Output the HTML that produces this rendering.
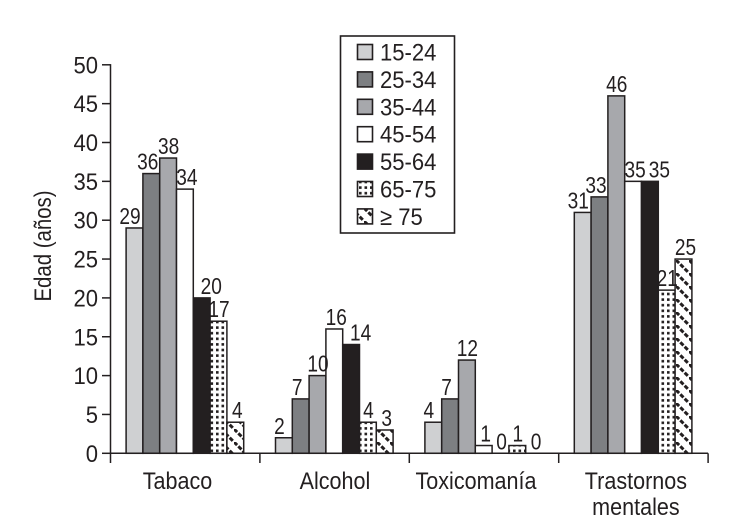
<!DOCTYPE html>
<html lang="es">
<head>
<meta charset="utf-8">
<title>Edad por trastorno</title>
<style>
html,body{margin:0;padding:0;background:#fff;width:730px;height:529px;overflow:hidden}
svg{display:block}
text{font-family:"Liberation Sans",Arial,sans-serif;fill:#231f20}
</style>
</head>
<body>
<svg id="chart" xmlns="http://www.w3.org/2000/svg" width="730" height="529" viewBox="0 0 730 529">
<defs>
<pattern id="p-dots" patternUnits="userSpaceOnUse" width="5.5" height="5.6">
<rect width="5.5" height="5.6" fill="#fff"/>
<rect x="1.5" y="1.5" width="2.6" height="2.6" fill="#231f20"/>
</pattern>
<pattern id="p-diag" patternUnits="userSpaceOnUse" width="13" height="13">
<rect width="13" height="13" fill="#fff"/>
<path d="M0 0 L13 13 M-13 0 L0 13 M0 -13 L13 0" stroke="#231f20" stroke-width="3" stroke-dasharray="4.4 1.73" fill="none"/>
</pattern>
</defs>
<g id="plot"></g>
<g id="legend"></g>
</svg>
<script>
const categories = [["Tabaco"], ["Alcohol"], ["Toxicomanía"], ["Trastornos", "mentales"]];
const ageGroups = ["15-24", "25-34", "35-44", "45-54", "55-64", "65-75", "≥ 75"];
const age1524 = [29, 2, 4, 31];
const age2534 = [36, 7, 7, 33];
const age3544 = [38, 10, 12, 46];
const age4554 = [34, 16, 1, 35];
const age5564 = [20, 14, 0, 35];
const age6575 = [17, 4, 1, 21];
const age75up = [4, 3, 0, 25];
const yTicks = [0, 5, 10, 15, 20, 25, 30, 35, 40, 45, 50];
const yTitle = "Edad (años)";

const seriesValues = [age1524, age2534, age3544, age4554, age5564, age6575, age75up];
const fills = ["#cfd0d2", "#7d7f82", "#a7a8ac", "#ffffff", "#231f20", "url(#p-dots)", "url(#p-diag)"];
const NS = "http://www.w3.org/2000/svg";
const INK = "#231f20";
const plot = document.getElementById("plot");
const legend = document.getElementById("legend");

function yScale(v) { return 453.3 - v * 7.77; }
function groupLeft(i) { return 110.5 + i * 149.4; }
function barX(g, s) { return groupLeft(g) + 15.6 + s * 16.8; }
function valueNudge(s, v) {
  if (s === 0) return -4.5;
  if (s === 1) return -3.5;
  if (s === 3) return 2;
  if (s === 4) return v > 1 ? 9.5 : 1;
  if (s === 6) return 2;
  return 0.5;
}
function categoryCenter(g) {
  const nudge = g === 0 ? -7.7 : g === 1 ? 0.3 : g === 2 ? -8 : 2.5;
  return groupLeft(g) + 74.7 + nudge;
}

function make(tag, attrs, parent) {
  const el = document.createElementNS(NS, tag);
  for (const k in attrs) el.setAttribute(k, attrs[k]);
  parent.appendChild(el);
  return el;
}
function label(str, x, y, size, sx, anchor, parent) {
  const el = make("text", {
    transform: "translate(" + x + " " + y + ") scale(" + sx + " 1)",
    "font-size": size, "text-anchor": anchor
  }, parent);
  el.textContent = str;
  return el;
}

seriesValues.forEach(function (vals, s) {
  vals.forEach(function (v, g) {
    const bar = make("rect", {
      x: barX(g, s), y: yScale(v), width: 16.8, height: yScale(0) - yScale(v),
      fill: fills[s], stroke: INK, "stroke-width": 1.5
    }, plot);
    
    
  });
});
seriesValues.forEach(function (vals, s) {
  vals.forEach(function (v, g) {
    const t = label(String(v), barX(g, s) + 8.4 + valueNudge(s, v), yScale(v) - 4, 23, 0.83, "middle", plot);
    
    
  });
});

const yAxis = make("line", { x1: 110.5, y1: yScale(50) - 0.7, x2: 110.5, y2: 463, stroke: INK, "stroke-width": 1.5 }, plot);


const xAxis = make("line", { x1: 110, y1: yScale(0), x2: groupLeft(4), y2: yScale(0), stroke: INK, "stroke-width": 1.5 }, plot);



yTicks.forEach(function (v) {
  const tick = make("line", { x1: 102, y1: yScale(v), x2: 110.5, y2: yScale(v), stroke: INK, "stroke-width": 1.5 }, plot);
  
  
  const t = label(String(v), 98, yScale(v) + 8.5, 24, 0.92, "end", plot);
  
  
});

categories.forEach(function (lines, g) {
  const tick = make("line", { x1: groupLeft(g + 1), y1: yScale(0), x2: groupLeft(g + 1), y2: 463, stroke: INK, "stroke-width": 1.5 }, plot);
  
  
  lines.forEach(function (line, i) {
    const t = label(line, categoryCenter(g), 489 + i * 26, 24.5, 0.88, "middle", plot);
    
    
  });
});

const title = label(yTitle, 0, 0, 24, 0.85, "middle", plot);
title.setAttribute("transform", "translate(51 246) rotate(-90) scale(0.85 1)");



const box = make("rect", { x: 340.5, y: 36, width: 114, height: 197, fill: "#fff", stroke: INK, "stroke-width": 1.6 }, legend);


ageGroups.forEach(function (name, i) {
  const cy = 52 + i * 27.4;
  const sw = make("rect", { x: 357.5, y: cy - 7.5, width: 15, height: 15, fill: fills[i], stroke: INK, "stroke-width": 1.6 }, legend);
  
  
  const t = label(name, 380, cy + 8.5, 24, 0.92, "start", legend);
  
  
});
</script>
</body>
</html>
